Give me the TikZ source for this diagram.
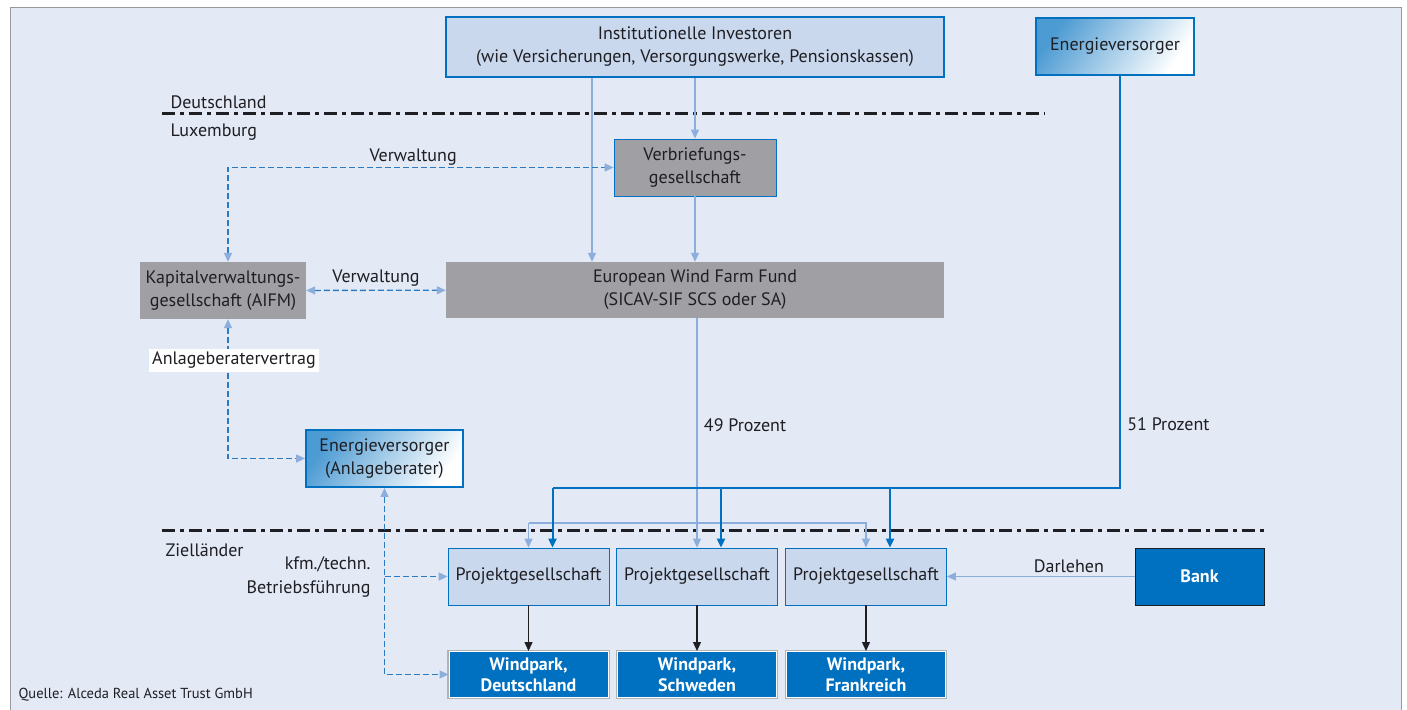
\documentclass[tikz,border=0pt]{standalone}
\usepackage{fontspec}
\setmainfont{PT Sans}
\usetikzlibrary{arrows.meta}
\definecolor{bgblue}{RGB}{227,233,245}
\definecolor{boxblue}{RGB}{202,216,238}
\definecolor{ewblue}{RGB}{0,112,192}
\definecolor{lineblue}{RGB}{140,174,220}
\definecolor{dashblue}{RGB}{42,123,196}
\definecolor{fundgray}{RGB}{160,160,164}
\definecolor{textgray}{RGB}{30,30,35}

\begin{document}
\begin{tikzpicture}[x=1pt, y=-1pt,
every node/.style={align=center, text=textgray, font=\fontsize{18}{23}\selectfont},
lightbox/.style={fill=boxblue, draw=ewblue, thick, inner sep=0pt},
graybox/.style={fill=fundgray, inner sep=0pt},
gradbox/.style={shading=axis, top color=white, bottom color=ewblue!70, shading angle=-125, draw=ewblue, line width=1.8pt, inner sep=0pt},
parkbox/.style={fill=ewblue, draw=white, line width=1pt, preaction={draw=gray!60, line width=3.4pt}, inner sep=0pt, text=white, font=\fontsize{18}{21}\selectfont\bfseries},
lightline/.style={draw=lineblue, line width=1.2pt, -{Triangle[length=9pt,width=8pt]}},
darkline/.style={draw=ewblue, line width=2pt, -{Triangle[length=9pt,width=8pt]}},
dashline/.style={draw=dashblue, line width=1.3pt, dash pattern=on 6pt off 3pt, {Triangle[length=9pt,width=8pt,lineblue]}-{Triangle[length=9pt,width=8pt,lineblue]}},
border/.style={draw=textgray, line width=3pt, dash pattern=on 13pt off 5pt on 4pt off 5pt}]
%================================================================
%	Background
\useasboundingbox (0,0) rectangle (1407,709);
\fill[white] (0,0) rectangle (1407,709);
\filldraw[fill=bgblue, draw=gray!80, line width=1pt] (10,8) rectangle (1401,720);

%================================================================
%	Boundaries
\draw[border] (162,113) -- (1045,113);
\draw[border] (162,530) -- (1265,530);

\node[anchor=west] (de) at (167,102) {Deutschland};
\node[anchor=west] (lu) at (167,132) {Luxemburg};
\node[anchor=west] (zl) at (162,550) {Zielländer};

%================================================================
%	Nodes
\node[lightbox, line width=2.2pt, minimum width=498, minimum height=60] (inv) at (695,47) {Institutionelle Investoren\\(wie Versicherungen, Versorgungswerke, Pensionskassen)};
\node[gradbox, minimum width=158, minimum height=57] (ev) at (1115,46.5) {Energieversorger};

\node[graybox, draw=ewblue, thick, minimum width=162, minimum height=57] (verb) at (695,167.5) {Verbriefungs-\\gesellschaft};
\node[graybox, minimum width=166, minimum height=57] (kvg) at (223,290.5) {Kapitalverwaltungs-\\gesellschaft (AIFM)};
\node[graybox, minimum width=498, minimum height=56] (fund) at (695,290) {European Wind Farm Fund\\(SICAV-SIF SCS oder SA)};

\node[gradbox, minimum width=157, minimum height=57] (evab) at (384.5,458.5) {Energieversorger\\(Anlageberater)};

\node[lightbox, minimum width=161, minimum height=57] (pg1) at (528.5,576.5) {Projektgesellschaft};
\node[lightbox, minimum width=161, minimum height=57] (pg2) at (697,576.5) {Projektgesellschaft};
\node[lightbox, minimum width=161, minimum height=57] (pg3) at (866,576.5) {Projektgesellschaft};
\node[fill=ewblue, draw=textgray, thick, minimum width=129, minimum height=57, text=white, font=\fontsize{18}{23}\selectfont\bfseries] (bank) at (1199.5,576.5) {Bank};

\node[parkbox, minimum width=159, minimum height=46] (wp1) at (528.5,674.5) {Windpark,\\Deutschland};
\node[parkbox, minimum width=159, minimum height=46] (wp2) at (697,674.5) {Windpark,\\Schweden};
\node[parkbox, minimum width=159, minimum height=46] (wp3) at (866,674.5) {Windpark,\\Frankreich};

%================================================================
%	Lines
\coordinate (xa) at (592,0);
\coordinate (lsplit) at (697,523);
\coordinate (dsplit) at (1120,488);

\draw[lightline] (inv.south -| xa) -- (fund.north -| xa);
\draw[lightline] (inv.south -| verb) -- (verb.north);
\draw[lightline] (verb.south) -- (fund.north -| verb);
\draw[lightline] (fund.south -| pg2) -- (pg2.north) node[pos=0.465, right, xshift=3] (p49) {49 Prozent};
\draw[lightline] (lsplit -| pg1) -- (pg1.north);
\draw[lightline] (lsplit -| pg1) -- (lsplit -| pg3) -- (pg3.north);

\draw[darkline, -] (ev.south -| dsplit) -- (dsplit) node[pos=0.845, right, xshift=3] (p51) {51 Prozent} -- ([xshift=24]pg1.north |- dsplit);
\draw[darkline] ([xshift=24]pg1.north |- dsplit) -- ([xshift=24]pg1.north);
\draw[darkline] ([xshift=24]pg2.north |- dsplit) -- ([xshift=24]pg2.north);
\draw[darkline] ([xshift=24]pg3.north |- dsplit) -- ([xshift=24]pg3.north);

\draw[lightline] (bank) -- (pg3) node[pos=0.35, above, yshift=0] (dl) {Darlehen};

\draw[-{Triangle[length=9pt,width=8pt]}, line width=1.3pt, textgray] (pg1) -- (wp1);
\draw[-{Triangle[length=9pt,width=8pt]}, line width=1.3pt, textgray] (pg2) -- (wp2);
\draw[-{Triangle[length=9pt,width=8pt]}, line width=1.3pt, textgray] (pg3) -- (wp3);

%----------------------------------------------------------------
\draw[dashline] ([xshift=5]kvg.north) |- (verb.west) node[pos=0.74, above, yshift=-2] (vw1) {Verwaltung};
\draw[dashline] (kvg) -- (fund) node[midway, above] (vw2) {Verwaltung};
\draw[dashline] ([xshift=5]kvg.south) |- (evab.west);
\node[fill=white, inner sep=3pt] (abv) at (234,360.5) {Anlageberatervertrag};

\draw[dashline] (evab.south) |- (wp1.west);
\draw[dashline, -{Triangle[length=9pt,width=8pt,lineblue]}] (evab.south |- pg1.west) -- (pg1.west);
\node[anchor=east, align=right, font=\fontsize{18}{24}\selectfont] (bf) at (374,577) {kfm./techn.\\Betriebsführung};

%================================================================
\node[anchor=west, font=\fontsize{14.5}{17}\selectfont] (src) at (15,695) {Quelle: Alceda Real Asset Trust GmbH};
\end{tikzpicture}
\end{document}
